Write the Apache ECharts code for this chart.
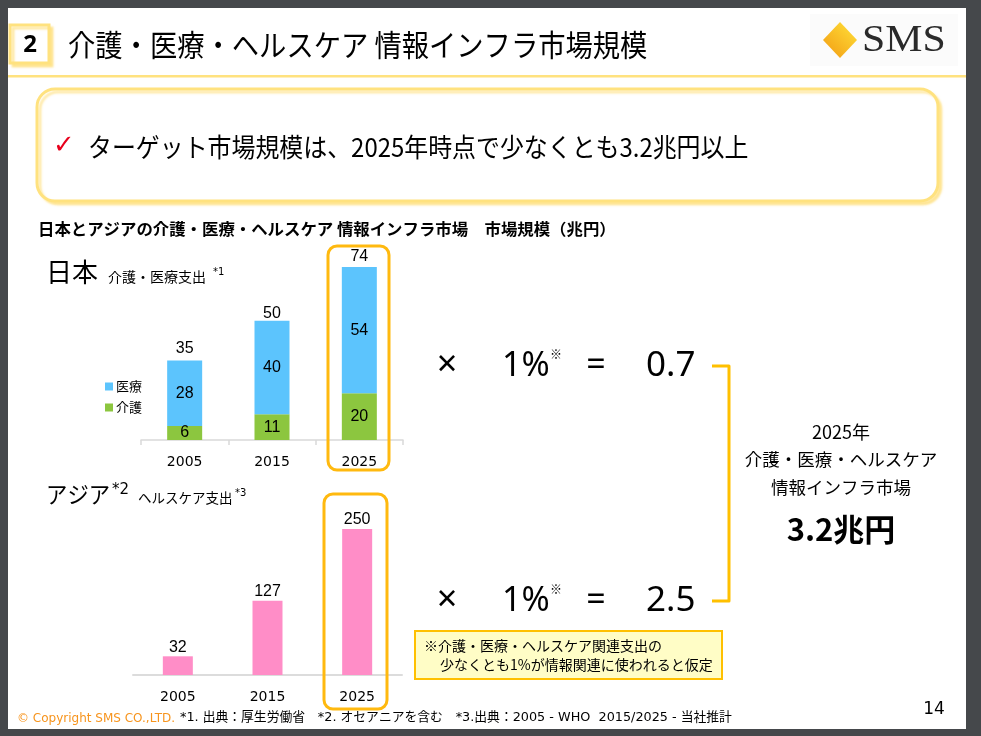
<!DOCTYPE html>
<html><head><meta charset="utf-8">
<script src="https://cdn.jsdelivr.net/npm/echarts@6/dist/echarts.min.js"></script>
<style>html,body{margin:0;padding:0;background:#45484b}#c{width:981px;height:736px}</style>
</head><body><div id="c"></div>
<script>
// ---- data ----
const years = ['2005', '2015', '2025'];
const japanKaigo = [6, 11, 20];      // 介護
const japanIryo = [28, 40, 54];      // 医療
const japanTotal = [35, 50, 74];     // 合計
const asiaHealth = [32, 127, 250];   // アジア ヘルスケア支出
const rate = '1%';
const japanInfra = '0.7';
const asiaInfra = '2.5';
const totalInfra = '3.2兆円';

const JP = "'Noto Sans CJK JP', 'Noto Sans', sans-serif";
const LAT = "'Noto Sans', 'Noto Sans CJK JP', sans-serif";
const ARIAL = "'Liberation Sans', Arial, sans-serif";
const VERD = "'DejaVu Sans', 'Noto Sans CJK JP', sans-serif";

function txt(x, y, text, size, o) {
  o = o || {};
  const align = o.align || 'left';
  return {
    type: 'text', x: x, y: y, scaleX: o.sx || 1, z: o.z || 10, silent: true,
    style: {
      x: 0, y: 0, text: text, fill: o.color || '#000',
      fontSize: size, fontFamily: o.family || JP, fontWeight: o.weight || 'normal',
      align: align, textAlign: align, verticalAlign: 'middle', textVerticalAlign: 'middle'
    }
  };
}

const graphics = [
  // slide
  { type: 'rect', shape: { x: 8, y: 8, width: 958, height: 721 }, style: { fill: '#ffffff' }, z: 0, silent: true },
  // header number box
  { type: 'rect', shape: { x: 10, y: 25, width: 39, height: 38 }, z: 5, silent: true,
    style: { fill: '#fff', stroke: '#FFE27F', lineWidth: 3, shadowColor: 'rgba(255,215,90,0.55)', shadowOffsetX: 3, shadowOffsetY: 3, shadowBlur: 2 } },
  txt(30, 45, '2', 24, { align: 'center', weight: 'bold', family: LAT }),
  txt(68, 45, '介護・医療・ヘルスケア 情報インフラ市場規模', 30, { sx: 0.91 }),
  // header line
  { type: 'rect', shape: { x: 8, y: 75, width: 958, height: 2.5 }, style: { fill: '#FFE27F' }, z: 5, silent: true },
  // logo
  { type: 'rect', shape: { x: 810, y: 14, width: 148, height: 52 }, style: { fill: '#fbfbfb' }, z: 3, silent: true },
  { type: 'polygon', shape: { points: [[840, 22], [857, 40], [840, 58], [823, 40]] }, z: 5, silent: true,
    style: { fill: { type: 'linear', x: 0, y: 1, x2: 1, y2: 0, colorStops: [{ offset: 0, color: '#F29A12' }, { offset: 1, color: '#FFE23A' }] } } },
  txt(862, 41, 'SMS', 38, { family: "'Liberation Serif', 'DejaVu Serif', serif", color: '#2a2a2a', sx: 1.1 }),
  // message box
  { type: 'rect', shape: { x: 37, y: 89, width: 901, height: 112, r: 18 }, z: 5, silent: true,
    style: { fill: '#fff', stroke: '#FFE27F', lineWidth: 3, shadowColor: 'rgba(255,215,90,0.5)', shadowOffsetX: 3, shadowOffsetY: 3, shadowBlur: 2 } },
  txt(53, 146, '✓', 26, { color: '#E8001C', family: "'DejaVu Sans', sans-serif", weight: 'bold' }),
  txt(88, 147, 'ターゲット市場規模は、2025年時点で少なくとも3.2兆円以上', 26, { sx: 0.92 }),
  // chart subtitle
  txt(38, 229, '日本とアジアの介護・医療・ヘルスケア 情報インフラ市場　市場規模（兆円）', 16, { weight: 'bold', sx: 1.025 }),
  // Japan title
  txt(46, 272, '日本', 26),
  txt(108, 277, '介護・医療支出', 14),
  txt(213, 272, '*1', 10, { family: VERD }),
  // Asia title
  txt(46, 494, 'アジア', 23, { sx: 0.93 }),
  txt(112, 490, '*2', 15, { family: VERD }),
  txt(138, 498, 'ヘルスケア支出', 13.5),
  txt(235, 493, '*3', 10, { family: VERD }),
  // highlight boxes
  { type: 'rect', shape: { x: 328, y: 246, width: 61, height: 224, r: 9 }, z: 20, silent: true, style: { fill: 'none', stroke: '#FFB90F', lineWidth: 3 } },
  { type: 'rect', shape: { x: 324, y: 494, width: 63, height: 215, r: 9 }, z: 20, silent: true, style: { fill: 'none', stroke: '#FFB90F', lineWidth: 3 } },
  // formula rows
  txt(447, 366, '×', 36, { align: 'center', family: LAT }),
  txt(502, 366, rate, 35, { family: LAT, sx: 0.97 }),
  txt(550, 354, '※', 12),
  txt(596, 366, '=', 34, { align: 'center', family: LAT }),
  txt(646, 366, japanInfra, 35, { family: LAT }),
  txt(447, 601, '×', 36, { align: 'center', family: LAT }),
  txt(502, 601, rate, 35, { family: LAT, sx: 0.97 }),
  txt(550, 589, '※', 12),
  txt(596, 601, '=', 34, { align: 'center', family: LAT }),
  txt(646, 601, asiaInfra, 35, { family: LAT }),
  // bracket
  { type: 'polyline', shape: { points: [[712, 366], [729, 366], [729, 601], [712, 601]] }, z: 10, silent: true,
    style: { stroke: '#FFC000', lineWidth: 3, fill: 'none', lineJoin: 'round' } },
  // total text
  txt(841, 432, '2025年', 18, { align: 'center' }),
  txt(841, 459, '介護・医療・ヘルスケア', 17.5, { align: 'center' }),
  txt(841, 487, '情報インフラ市場', 17.5, { align: 'center' }),
  txt(841, 529, totalInfra, 31, { align: 'center', weight: 'bold' }),
  // assumption note
  { type: 'rect', shape: { x: 415, y: 631, width: 307, height: 48 }, z: 5, silent: true, style: { fill: '#FFFDC6', stroke: '#FFC000', lineWidth: 2 } },
  txt(424, 646, '※介護・医療・ヘルスケア関連支出の', 14),
  txt(440, 665, '少なくとも1%が情報関連に使われると仮定', 14),
  // footer
  txt(17, 719, '© Copyright SMS CO.,LTD.', 12, { color: '#F7941D', family: VERD }),
  txt(180, 718, '*1. 出典：厚生労働省　*2. オセアニアを含む　*3.出典：2005 - WHO  2015/2025 - 当社推計', 12.8, { family: VERD }),
  txt(934, 710, '14', 17, { align: 'center', family: VERD })
];

const valLabel = { show: true, color: '#000', fontSize: 16, fontFamily: ARIAL };

const option = {
  backgroundColor: '#45484b',
  animation: false,
  legend: {
    data: ['医療', '介護'], orient: 'vertical', left: 100, top: 375,
    itemWidth: 8, itemHeight: 8, itemGap: 8, icon: 'rect',
    textStyle: { fontSize: 13, fontFamily: JP, color: '#000', padding: [0, 0, 0, -2] }
  },
  grid: [
    { left: 141, top: 267, width: 262, height: 173 },
    { left: 133, top: 529, width: 269, height: 146 }
  ],
  xAxis: [
    { gridIndex: 0, type: 'category', data: years,
      axisLine: { lineStyle: { color: '#d9d9d9', width: 1.5 } },
      axisTick: { show: true, length: 5, lineStyle: { color: '#d9d9d9', width: 1.5 } },
      axisLabel: { color: '#000', fontSize: 14, fontFamily: VERD, margin: 15 } },
    { gridIndex: 1, type: 'category', data: years,
      axisLine: { lineStyle: { color: '#dcdcdc', width: 2 } },
      axisTick: { show: false },
      axisLabel: { color: '#000', fontSize: 14, fontFamily: VERD, margin: 15 } }
  ],
  yAxis: [
    { gridIndex: 0, type: 'value', min: 0, max: Math.max(...japanTotal), show: false },
    { gridIndex: 1, type: 'value', min: 0, max: Math.max(...asiaHealth), show: false }
  ],
  series: [
    { name: '介護', type: 'bar', stack: 'jp', xAxisIndex: 0, yAxisIndex: 0, data: japanKaigo,
      barWidth: 35, barGap: '-100%', itemStyle: { color: '#8CC63F' },
      label: Object.assign({ position: 'inside' }, valLabel) },
    { name: '医療', type: 'bar', stack: 'jp', xAxisIndex: 0, yAxisIndex: 0, data: japanIryo,
      barWidth: 35, barGap: '-100%', itemStyle: { color: '#5CC4FD' },
      label: Object.assign({ position: 'inside' }, valLabel) },
    { name: '合計', type: 'bar', xAxisIndex: 0, yAxisIndex: 0, data: japanTotal,
      barWidth: 35, barGap: '-100%', silent: true, z: 1, itemStyle: { color: 'rgba(0,0,0,0)' },
      label: Object.assign({ position: 'top', distance: 2 }, valLabel) },
    { name: 'ヘルスケア', type: 'bar', xAxisIndex: 1, yAxisIndex: 1, data: asiaHealth,
      barWidth: 30, itemStyle: { color: '#FF8DC7' },
      label: Object.assign({ position: 'top', distance: 1 }, valLabel) }
  ],
  graphic: { elements: graphics }
};

const chart = echarts.init(document.getElementById('c'));
chart.setOption(option);
</script>
</body></html>
